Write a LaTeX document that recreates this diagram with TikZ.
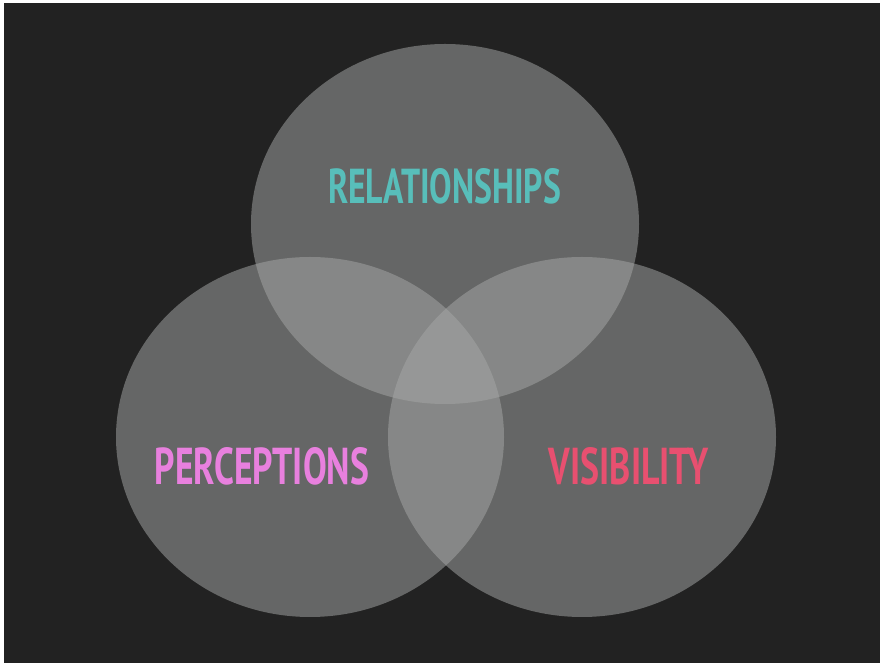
\documentclass[tikz,border=0pt]{standalone}
\usepackage{fontspec}
\usepackage{graphicx}
\newfontfamily\labelfont{PT Sans}[BoldFont={PT Sans Bold}]
\definecolor{bgdark}{RGB}{34,34,34}
\definecolor{discfill}{RGB}{166,168,167}
\definecolor{tealtxt}{RGB}{88,190,186}
\definecolor{pinktxt}{RGB}{232,128,222}
\definecolor{redtxt}{RGB}{232,80,112}
\tikzset{
  disc/.style={fill=discfill, fill opacity=0.515, draw=none},
  vlabel/.style={inner sep=0pt, anchor=center, font=\labelfont\bfseries}
}
\begin{document}
\begin{tikzpicture}[x=1pt,y=1pt]
\useasboundingbox (0,0) rectangle (881,663);
\fill[white] (0,0) rectangle (881,663);
\fill[bgdark] (4,0) rectangle (880,660);
% discs
\fill[disc] (445,439) ellipse [x radius=194, y radius=180];
\fill[disc] (310,226) ellipse [x radius=194, y radius=180];
\fill[disc] (582,226) ellipse [x radius=194, y radius=180];
% labels
\node[vlabel, text=tealtxt] (rel) at (444.5,477) {\resizebox{233pt}{35pt}{RELATIONSHIPS}};
\node[vlabel, text=pinktxt] (per) at (262,197) {\resizebox{214pt}{37pt}{PERCEPTIONS}};
\node[vlabel, text=redtxt] (vis) at (629,197) {\resizebox{160pt}{37pt}{VISIBILITY}};
\end{tikzpicture}
\end{document}
